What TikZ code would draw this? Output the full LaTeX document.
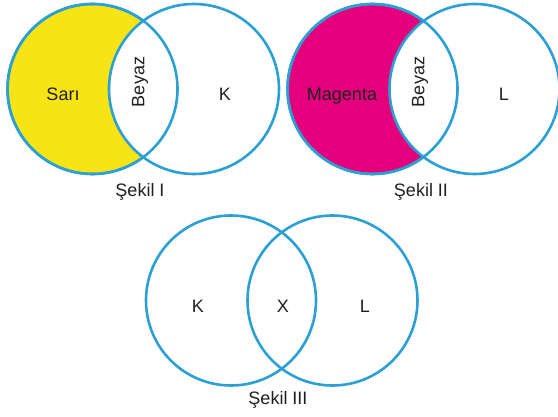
\documentclass[tikz,border=0pt]{standalone}
\usepackage{fontspec}
\setmainfont{Liberation Sans}
\definecolor{vennblue}{RGB}{42,160,212}
\definecolor{sariyellow}{RGB}{246,228,22}
\definecolor{magentafill}{RGB}{228,0,124}

\begin{document}
\begin{tikzpicture}[x=1pt,y=-1pt,
  venn/.style={circle,draw=vennblue,line width=2.6pt,minimum size=170pt,inner sep=0pt},
  ring/.style={draw=vennblue,line width=2.6pt},
  lbl/.style={font=\fontsize{18}{20}\selectfont,text=black!88,anchor=base,inner sep=0pt}]
  \useasboundingbox (0,0) rectangle (558,417);
  % Sekil I
  \node[venn,fill=sariyellow] (s1a) at (92.5,89) {};
  \node[venn,fill=white] (s1b) at (194,89) {};
  \draw[ring] (s1a.center) circle[radius=85pt];
  \node[lbl] (sari) at (63,101) {Sarı};
  \node[lbl,rotate=90,anchor=center] (beyaz1) at (140,82) {Beyaz};
  \node[lbl] (k1) at (225,101) {K};
  \node[lbl] (cap1) at (140,197) {Şekil I};
  % Sekil II
  \node[venn,fill=magentafill] (s2a) at (372.5,89) {};
  \node[venn,fill=white] (s2b) at (474.5,89) {};
  \draw[ring] (s2a.center) circle[radius=85pt];
  \node[lbl] (mag) at (342,101) {Magenta};
  \node[lbl,rotate=90,anchor=center] (beyaz2) at (420,82) {Beyaz};
  \node[lbl] (l2) at (504,101) {L};
  \node[lbl] (cap2) at (421,197) {Şekil II};
  % Sekil III
  \node[venn] (s3a) at (231,300.5) {};
  \node[venn] (s3b) at (332.5,300.5) {};
  \node[lbl] (k3) at (198,313) {K};
  \node[lbl] (x3) at (283,313) {X};
  \node[lbl] (l3) at (365,313) {L};
  \node[lbl] (cap3) at (278,405) {Şekil III};
\end{tikzpicture}
\end{document}
